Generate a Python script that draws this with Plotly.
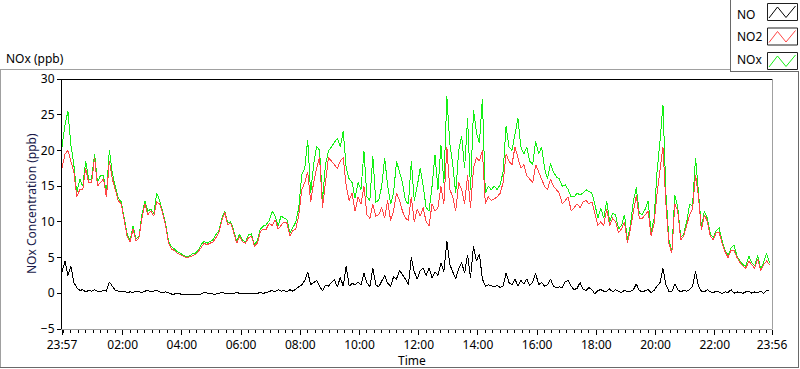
import plotly.graph_objects as go
import pandas as pd

# ---------------- data ----------------
start_time = "2024-01-01 23:57"
end_time = "2024-01-02 23:56"
sample_step = "6min"
n_samples = 240

no2_ppb = [
    17.5, 19.5, 20.0, 18.5, 17.0, 13.5, 14.5, 14.5, 17.5, 15.5,
    15.5, 19.0, 15.0, 15.5, 16.0, 13.5, 18.5, 16.0, 14.5, 13.0,
    12.5, 10.5, 8.0, 7.2, 9.0, 7.3, 7.8, 10.5, 12.5, 11.0,
    11.5, 10.8, 12.8, 12.5, 11.2, 9.5, 7.0, 6.2, 6.0, 5.6,
    5.4, 5.2, 5.0, 5.1, 5.3, 5.4, 5.8, 6.5, 7.0, 6.8,
    7.0, 7.2, 7.8, 8.5, 10.2, 11.3, 9.6, 9.8, 8.5, 7.0,
    8.0, 7.2, 7.0, 7.8, 8.0, 6.6, 7.0, 8.6, 9.0, 9.0,
    9.8, 9.5, 10.3, 9.0, 9.5, 10.0, 9.8, 8.0, 8.8, 9.0,
    11.0, 14.5, 15.5, 17.0, 12.8, 15.5, 17.5, 19.0, 12.0, 16.0,
    19.0, 18.5, 18.0, 17.5, 18.5, 19.0, 15.0, 13.0, 14.0, 11.5,
    13.5, 12.5, 15.0, 11.0, 10.5, 12.5, 10.8, 11.0, 12.0, 10.5,
    13.0, 10.2, 11.5, 14.0, 13.0, 11.5, 10.5, 10.2, 13.5, 10.0,
    11.8, 10.8, 12.0, 10.0, 9.5, 12.5, 11.5, 12.0, 15.0, 12.5,
    20.5, 14.5, 13.5, 11.5, 15.5, 14.5, 12.5, 16.5, 12.0, 17.5,
    19.0, 18.5, 20.0, 12.5, 13.5, 13.0, 13.2, 13.5, 14.0, 15.5,
    19.5, 18.5, 18.0, 20.5, 19.0, 17.5, 18.0, 16.5, 16.0, 15.5,
    18.0, 17.0, 16.0, 15.0, 14.5, 16.0, 15.0, 14.5, 14.0, 12.5,
    13.0, 13.5, 11.5, 12.0, 12.5, 12.0, 12.8, 13.0, 12.5, 12.8,
    11.0, 9.5, 10.0, 9.5, 11.8, 9.5, 10.5, 10.0, 8.5, 9.0,
    10.0, 7.0, 9.0, 11.5, 13.7, 10.5, 10.5, 11.0, 11.5, 8.0,
    9.8, 14.0, 17.5, 20.5, 12.5, 7.0, 5.6, 12.5, 11.5, 7.5,
    8.0, 9.5, 11.0, 11.8, 16.6, 13.5, 8.8, 11.0, 10.0, 8.0,
    7.5, 8.5, 8.5, 7.0, 5.8, 5.0, 6.0, 6.0, 5.0, 4.3,
    3.8, 3.5, 4.5, 4.0, 3.5, 4.8, 3.2, 4.0, 4.5, 4.0,
]

nox_ppb = [
    20.5, 23.5, 25.5, 20.8, 18.0, 14.0, 16.0, 15.0, 18.5, 16.0,
    16.0, 19.5, 15.5, 16.5, 16.5, 14.0, 20.0, 16.8, 15.0, 13.3,
    12.8, 10.8, 8.3, 7.4, 9.4, 7.6, 8.0, 11.0, 12.9, 11.5,
    11.8, 11.2, 14.0, 13.0, 11.5, 9.8, 7.2, 6.5, 6.2, 5.8,
    5.6, 5.3, 5.1, 5.2, 5.5, 5.6, 6.0, 6.8, 7.3, 7.0,
    7.3, 7.5, 8.2, 8.8, 10.5, 11.5, 9.9, 10.0, 8.8, 7.3,
    8.3, 7.4, 7.2, 8.2, 8.3, 6.8, 7.4, 9.0, 9.4, 9.6,
    10.2, 11.5, 10.8, 9.5, 10.8, 10.5, 10.3, 8.4, 9.3, 10.0,
    12.0, 16.6, 17.5, 21.5, 14.0, 18.0, 20.6, 20.0, 13.0, 18.0,
    19.9, 20.5, 21.0, 21.7, 20.5, 22.7, 17.5, 16.0, 15.5, 13.3,
    15.5, 14.5, 19.9, 13.5, 13.0, 19.2, 12.8, 13.0, 15.0, 19.0,
    15.0, 12.5, 14.0, 18.5, 17.0, 15.5, 13.0, 12.5, 18.5, 13.0,
    15.0, 17.5, 15.0, 12.0, 11.5, 15.0, 19.4, 14.5, 20.8, 15.5,
    27.6, 21.0, 18.0, 14.0, 20.0, 22.0, 17.5, 24.5, 14.5, 25.7,
    22.5, 21.0, 27.2, 14.0, 15.0, 14.5, 15.0, 14.5, 15.2, 17.0,
    23.4, 20.5, 20.0, 22.0, 24.5, 20.5, 19.5, 20.5, 18.5, 18.0,
    21.3, 19.5, 20.5, 17.5, 16.0, 18.2, 17.0, 16.3, 16.0, 15.0,
    15.2, 14.5, 13.5, 13.5, 14.0, 13.8, 14.0, 14.5, 14.2, 14.0,
    12.5, 10.5, 11.9, 10.5, 12.9, 10.0, 11.2, 11.0, 9.0, 9.5,
    11.0, 7.5, 9.5, 12.9, 14.8, 11.2, 11.0, 11.8, 12.9, 8.5,
    10.5, 17.0, 21.3, 26.4, 14.0, 7.5, 5.8, 13.8, 12.0, 7.8,
    8.3, 10.0, 12.4, 12.3, 19.0, 14.0, 9.2, 11.5, 10.5, 8.3,
    7.8, 8.8, 9.1, 7.3, 6.0, 5.3, 6.3, 6.8, 5.2, 4.5,
    4.0, 3.8, 5.2, 4.3, 3.8, 5.3, 3.4, 4.3, 5.6, 4.3,
]

no_ppb = [
    3.0, 4.5, 2.5, 3.8, 1.5, 0.8, 0.4, 0.5, 0.2, 0.4,
    0.3, 0.5, 0.3, 0.2, 0.4, 0.3, 1.6, 0.9, 0.4, 0.3,
    0.2, 0.3, 0.1, 0.2, 0.1, 0.3, 0.2, 0.1, 0.3, 0.4,
    0.2, 0.3, 0.4, 0.2, 0.1, 0.2, 0.0, -0.1, -0.1, 0.0,
    -0.1, -0.1, -0.1, -0.1, -0.1, 0.0, -0.1, -0.1, 0.1, 0.0,
    0.0, -0.1, -0.1, 0.0, 0.1, 0.0, -0.1, -0.1, 0.0, 0.1,
    0.0, -0.1, 0.0, 0.0, -0.1, 0.0, 0.0, 0.1, 0.0, 0.1,
    0.3, 0.4, 0.2, 0.5, 0.3, 0.4, 0.2, 0.5, 0.3, 0.6,
    1.0, 1.2, 1.8, 3.0, 1.2, 1.5, 1.8, 1.0, 0.3, 1.1,
    1.0, 1.5, 1.9, 0.9, 2.2, 1.0, 3.8, 1.0, 1.4, 1.2,
    1.6, 1.2, 2.8, 1.5, 0.9, 3.5, 1.2, 0.9, 1.8, 2.5,
    1.4, 1.0, 2.3, 2.0, 3.2, 2.6, 2.0, 1.2, 5.0, 3.0,
    2.0, 3.2, 3.5, 2.5, 3.5, 2.2, 3.0, 2.5, 4.2, 3.0,
    7.3, 4.0, 3.0, 2.0, 3.5, 4.3, 2.8, 5.4, 2.2, 6.6,
    4.5, 5.5, 2.0, 1.0, 1.2, 1.0, 0.9, 1.1, 0.8, 1.0,
    2.8, 1.5, 1.2, 2.0, 1.0, 1.8, 1.3, 2.0, 1.1, 1.6,
    2.8, 1.2, 1.5, 1.0, 1.2, 2.0, 1.0, 0.8, 0.9, 0.8,
    1.6, 1.8, 1.0, 0.5, 0.7, 1.5, 0.6, 0.4, 0.8, 0.5,
    -0.1, 0.4, 0.5, 0.3, 0.3, 0.6, 0.2, 0.5, 0.3, 0.1,
    0.4, 0.2, 0.3, 0.5, 1.3, 0.4, 0.2, 0.3, 0.5, 0.1,
    0.4, 1.0, 1.5, 3.5, 1.2, 0.3, 0.2, 1.3, 0.5, 0.2,
    0.4, 0.3, 0.5, 1.0, 3.1, 1.0, 0.3, 0.2, 0.5, 0.2,
    0.1, 0.3, 0.2, 0.0, 0.2, 0.1, 0.5, 0.0, 0.2, 0.1,
    0.0, 0.2, 0.3, 0.0, 0.2, 0.1, 0.3, 0.0, 0.4, 0.3,
]

x_tick_times = [
    "2024-01-01 23:57", "2024-01-02 02:00", "2024-01-02 04:00",
    "2024-01-02 06:00", "2024-01-02 08:00", "2024-01-02 10:00",
    "2024-01-02 12:00", "2024-01-02 14:00", "2024-01-02 16:00",
    "2024-01-02 18:00", "2024-01-02 20:00", "2024-01-02 22:00",
    "2024-01-02 23:56",
]
x_tick_labels = ["23:57", "02:00", "04:00", "06:00", "08:00", "10:00",
                 "12:00", "14:00", "16:00", "18:00", "20:00", "22:00", "23:56"]
y_ticks = [-5, 0, 5, 10, 15, 20, 25, 30]

series_names = ["NO", "NO2", "NOx"]
series_colors = {"NO": "#000000", "NO2": "#FF4545", "NOx": "#14F014"}

times = pd.date_range(start_time, periods=n_samples, freq=sample_step)

# ---------------- figure ----------------
W, H = 800, 369
L, R, T, B = 62, 28, 79, 40
PW, PH = W - L - R, H - T - B
FONT = "Noto Sans"
FS = 11


def px(xpix):
    return (xpix - L) / PW


def py(ypix):
    return (H - B - ypix) / PH


fig = go.Figure()
fig.add_trace(go.Scatter(x=times, y=nox_ppb, mode="lines", name="NOx",
                         line=dict(color=series_colors["NOx"], width=1)))
fig.add_trace(go.Scatter(x=times, y=no2_ppb, mode="lines", name="NO2",
                         line=dict(color=series_colors["NO2"], width=1)))
fig.add_trace(go.Scatter(x=times, y=no_ppb, mode="lines", name="NO",
                         line=dict(color=series_colors["NO"], width=1)))

shapes = []


def hline(x0, x1, y, color):
    shapes.append(dict(type="line", xref="paper", yref="paper",
                       x0=px(x0), x1=px(x1), y0=py(y), y1=py(y),
                       line=dict(color=color, width=1)))


def vline(x, y0, y1, color):
    shapes.append(dict(type="line", xref="paper", yref="paper",
                       x0=px(x), x1=px(x), y0=py(y0), y1=py(y1),
                       line=dict(color=color, width=1)))


# plot frame: top black, right gray
hline(62, 772.5, 79.5, "#000000")
vline(772.5, 79.5, 329.5, "#A0A0A0")
# outer panel frame
hline(0, 730, 69.5, "#A0A0A0")
vline(0.5, 69.5, 368, "#A0A0A0")
hline(0, 799, 367.5, "#696969")
vline(798.5, 71.5, 368, "#696969")
# legend panel frame
vline(730.5, 0, 72, "#696969")
hline(730, 799, 71.5, "#696969")

annotations = []
text_rows = [14, 36, 60]
box_tops = [3.5, 28, 52.5]
for name, yc, bt in zip(series_names, text_rows, box_tops):
    annotations.append(dict(text=name, xref="paper", yref="paper",
                            x=px(735), y=py(yc), xanchor="left", yanchor="middle",
                            showarrow=False, font=dict(family=FONT, size=FS + 1, color="#000000")))
    shapes.append(dict(type="rect", xref="paper", yref="paper",
                       x0=px(767.5), x1=px(797.5), y0=py(bt), y1=py(bt + 17),
                       line=dict(color="#202020", width=1), fillcolor="#FFFFFF"))
    pts = [(769, bt + 14.5), (777.5, bt + 3.5), (786, bt + 14), (795.5, bt + 2.5)]
    path = "M " + " L ".join(f"{px(a):.5f},{py(b):.5f}" for a, b in pts)
    shapes.append(dict(type="path", xref="paper", yref="paper", path=path,
                       line=dict(color=series_colors[name], width=1)))

annotations.append(dict(text="NOx (ppb)", xref="paper", yref="paper",
                        x=px(4), y=py(59), xanchor="left", yanchor="middle",
                        showarrow=False, font=dict(family=FONT, size=FS + 1, color="#000000")))
annotations.append(dict(text="Time", xref="paper", yref="paper",
                        x=px(412), y=py(360), xanchor="center", yanchor="middle",
                        showarrow=False, font=dict(family=FONT, size=FS + 1, color="#000000")))
annotations.append(dict(text="NOx Concentration (ppb)", xref="paper", yref="paper",
                        x=px(31), y=0.5, xanchor="center", yanchor="middle", textangle=-90,
                        showarrow=False, font=dict(family=FONT, size=FS + 1, color="#1a1a4a")))

fig.update_layout(
    width=W, height=H,
    margin=dict(l=L, r=R, t=T, b=B, pad=0),
    paper_bgcolor="#FFFFFF", plot_bgcolor="#FFFFFF",
    showlegend=False,
    font=dict(family=FONT, size=FS, color="#000000"),
    shapes=shapes, annotations=annotations,
    xaxis=dict(
        type="date", range=[start_time, end_time],
        tickvals=x_tick_times, ticktext=x_tick_labels,
        ticks="outside", ticklen=5, tickcolor="#000000", tickwidth=1,
        minor=dict(ticks="outside", ticklen=3, tickcolor="#000000",
                   dtick=15 * 60 * 1000, tick0="2024-01-02 00:00", showgrid=False),
        showline=True, linecolor="#A0A0A0", linewidth=1,
        showgrid=False, zeroline=False,
        tickfont=dict(family=FONT, size=FS + 1, color="#000000"),
    ),
    yaxis=dict(
        range=[-5, 30], tickvals=y_ticks,
        ticks="outside", ticklen=4, tickcolor="#000000", tickwidth=1,
        showline=True, linecolor="#000000", linewidth=1,
        showgrid=False, zeroline=False,
        tickfont=dict(family=FONT, size=FS + 1, color="#000000"),
    ),
)

post = (
    "document.body.style.margin='0';"
    "document.body.style.overflow='hidden';"
    "document.querySelectorAll('.scatterlayer path.js-line').forEach(function(p){"
    "p.style.shapeRendering='crispEdges';});"
)
fig.write_html("out.html", config={"displayModeBar": False}, post_script=post)
